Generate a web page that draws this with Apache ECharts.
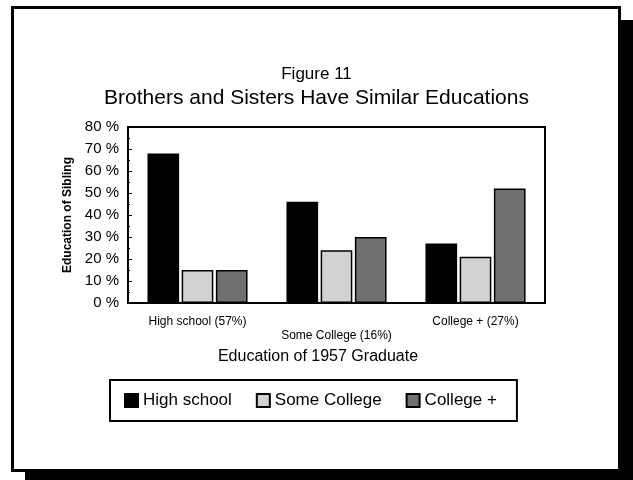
<!DOCTYPE html>
<html>
<head>
<meta charset="utf-8">
<script src="https://cdn.jsdelivr.net/npm/echarts@6/dist/echarts.min.js"></script>
<style>
  html, body { margin: 0; padding: 0; background: #fff; }
  #chart { width: 633px; height: 480px; }
</style>
</head>
<body>
<div id="chart"></div>
<script>
// graduate's education groups (x categories)
const categories = ['High school (57%)', 'Some College (16%)', 'College + (27%)']
// sibling's education, percent
const highSchool = [68, 46, 27]
const someCollege = [15, 24, 21]
const collegePlus = [15, 30, 52]
const seriesNames = ['High school', 'Some College', 'College +']

const chart = echarts.init(document.getElementById('chart'))

const font = 'Liberation Sans, Arial, sans-serif'

const option = {
  animation: false,
  backgroundColor: '#fff',
  textStyle: { fontFamily: font, color: '#000' },
  // frame with drop shadow
  graphic: [
    { type: 'rect', z: -10, shape: { x: 25, y: 20, width: 608, height: 460 }, style: { fill: '#000' } },
    { type: 'rect', z: -9, shape: { x: 12.5, y: 7.5, width: 607, height: 463 }, style: { fill: '#fff', stroke: '#000', lineWidth: 3 } }
  ],
  title: {
    text: 'Figure 11',
    subtext: 'Brothers and Sisters Have Similar Educations',
    left: 'center',
    top: 61,
    itemGap: 5,
    textStyle: { fontSize: 17, fontWeight: 'normal', color: '#000', fontFamily: font },
    subtextStyle: { fontSize: 21, color: '#000', fontFamily: font }
  },
  legend: {
    data: seriesNames,
    icon: 'rect',
    left: 110,
    top: 380,
    padding: [12, 20, 12, 14],
    borderColor: '#000',
    borderWidth: 2,
    itemWidth: 13,
    itemHeight: 13,
    itemGap: 24,
    textStyle: { fontSize: 17, color: '#000', fontFamily: font }
  },
  grid: {
    left: 128,
    right: 88,
    top: 127,
    bottom: 177,
    show: true,
    borderColor: '#000',
    borderWidth: 2
  },
  xAxis: {
    type: 'category',
    data: categories,
    name: 'Education of 1957 Graduate',
    nameLocation: 'middle',
    nameGap: 46,
    nameTextStyle: { fontSize: 16, color: '#000', padding: [0, 37, 0, 0] },
    axisLine: { lineStyle: { color: '#000', width: 2 } },
    axisTick: { inside: true, alignWithLabel: true, length: 3, lineStyle: { color: '#000' } },
    axisLabel: {
      color: '#000',
      fontSize: 12,
      lineHeight: 14,
      margin: 12,
      interval: 0,
      formatter: (v, i) => (i === 1 ? '\n' + v : v)
    }
  },
  yAxis: {
    type: 'value',
    min: 0,
    max: 80,
    interval: 10,
    name: 'Education of Sibling',
    nameLocation: 'middle',
    nameGap: 53,
    nameTextStyle: { fontSize: 12, fontWeight: 'bold', color: '#000' },
    axisLine: { show: true, lineStyle: { color: '#000', width: 2 } },
    axisTick: { show: true, inside: true, length: 4, lineStyle: { color: '#000' } },
    minorTick: { show: true, splitNumber: 2, length: 2, lineStyle: { color: '#000' } },
    splitLine: { show: false },
    axisLabel: { color: '#000', fontSize: 15, margin: 9, formatter: '{value} %' }
  },
  series: [
    {
      name: seriesNames[0], type: 'bar', data: highSchool,
      barGap: '8%', barCategoryGap: '28%',
      itemStyle: { color: '#000', borderColor: '#000', borderWidth: 1.5 }
    },
    {
      name: seriesNames[1], type: 'bar', data: someCollege,
      itemStyle: { color: '#d2d2d2', borderColor: '#000', borderWidth: 1.5 }
    },
    {
      name: seriesNames[2], type: 'bar', data: collegePlus,
      itemStyle: { color: '#707070', borderColor: '#000', borderWidth: 1.5 }
    }
  ]
}

chart.setOption(option)
</script>
</body>
</html>
